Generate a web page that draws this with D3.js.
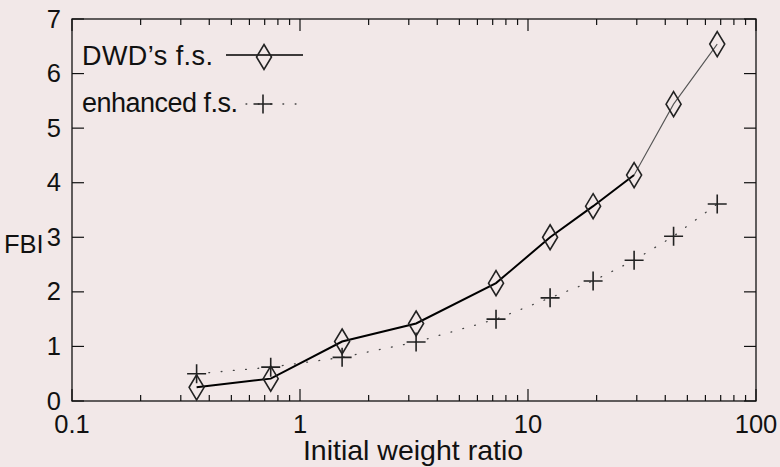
<!DOCTYPE html>
<html><head><meta charset="utf-8">
<script src="https://cdn.jsdelivr.net/npm/d3@7"></script>
<style>
html,body{margin:0;padding:0;background:#f2e8e8;}
svg{display:block;font-family:"Liberation Sans",Arial,sans-serif;}
</style></head><body>
<svg id="c" width="780" height="467"></svg>
<script>
const ratios = [0.352, 0.744, 1.53, 3.23, 7.24, 12.5, 19.3, 29.2, 43.5, 67.6];
const dwdFBI = [0.25, 0.41, 1.09, 1.42, 2.16, 3.0, 3.57, 4.14, 5.44, 6.54];
const enhancedFBI = [0.50, 0.62, 0.80, 1.08, 1.50, 1.89, 2.20, 2.58, 3.02, 3.61];
const xTicks = [0.1, 1, 10, 100];
const yTicks = [0, 1, 2, 3, 4, 5, 6, 7];
const seriesNames = ["DWD\u2019s f.s.", "enhanced f.s."];

const svg = d3.select("#c");
const L = 72, R = 756, T = 19, B = 401;
const x = d3.scaleLog().domain([0.1, 100]).range([L, R]);
const y = d3.scaleLinear().domain([0, 7]).range([B, T]);

const fg = "#111";
svg.append("rect").attr("x", L).attr("y", T).attr("width", R - L).attr("height", B - T)
  .attr("fill", "none").attr("stroke", fg).attr("stroke-width", 1.3);

const minor = [];
for (let d = 0.1; d < 100; d *= 10) for (let k = 2; k <= 9; k++) minor.push(+(d * k).toPrecision(3));
const tg = svg.append("g").attr("stroke", fg).attr("stroke-width", 1.2);
xTicks.forEach(v => {
  tg.append("line").attr("x1", x(v)).attr("x2", x(v)).attr("y1", B).attr("y2", B - 12);
  tg.append("line").attr("x1", x(v)).attr("x2", x(v)).attr("y1", T).attr("y2", T + 12);
});
minor.forEach(v => {
  tg.append("line").attr("x1", x(v)).attr("x2", x(v)).attr("y1", B).attr("y2", B - 6);
  tg.append("line").attr("x1", x(v)).attr("x2", x(v)).attr("y1", T).attr("y2", T + 6);
});
yTicks.forEach(v => {
  tg.append("line").attr("x1", L).attr("x2", L + 12).attr("y1", y(v)).attr("y2", y(v));
  tg.append("line").attr("x1", R).attr("x2", R - 12).attr("y1", y(v)).attr("y2", y(v));
});

const lab = svg.append("g").attr("fill", fg).attr("font-size", 25.5);
xTicks.forEach(v => {
  lab.append("text").attr("x", x(v)).attr("y", 433).attr("text-anchor", "middle")
    .text(d3.format("~g")(v));
});
yTicks.forEach(v => {
  lab.append("text").attr("x", 61).attr("y", y(v) + 8.5).attr("text-anchor", "end").text(v);
});
svg.append("text").attr("x", 413).attr("y", 460).attr("text-anchor", "middle")
  .attr("font-size", 28.5).attr("fill", fg).text("Initial weight ratio");
svg.append("text").attr("x", 4).attr("y", 253).attr("font-size", 25.5).attr("fill", fg).text("FBI");

const pts1 = ratios.map((r, i) => [r, dwdFBI[i]]);
const pts2 = ratios.map((r, i) => [r, enhancedFBI[i]]);
const line = d3.line().x(d => x(d[0])).y(d => y(d[1]));
svg.append("path").attr("d", line(pts2)).attr("fill", "none").attr("stroke", "#444")
  .attr("stroke-width", 1.3).attr("stroke-dasharray", "0.8 11.5").attr("stroke-linecap", "round");
svg.append("path").attr("d", line(pts1.slice(0, 8))).attr("fill", "none").attr("stroke", "#000")
  .attr("stroke-width", 2);
svg.append("path").attr("d", line(pts1.slice(7))).attr("fill", "none").attr("stroke", "#555")
  .attr("stroke-width", 1.1);

function diamond(g, cx, cy) {
  g.append("path").attr("d", `M${cx},${cy - 12.5}L${cx + 7.5},${cy}L${cx},${cy + 12.5}L${cx - 7.5},${cy}Z`)
    .attr("fill", "none").attr("stroke", "#222").attr("stroke-width", 1.6);
}
function plus(g, cx, cy) {
  g.append("path").attr("d", `M${cx - 9.5},${cy}H${cx + 9.5}M${cx},${cy - 9.5}V${cy + 9.5}`)
    .attr("fill", "none").attr("stroke", "#222").attr("stroke-width", 1.6);
}
const mg = svg.append("g");
pts1.forEach(d => diamond(mg, x(d[0]), y(d[1])));
pts2.forEach(d => plus(mg, x(d[0]), y(d[1])));

const lg = svg.append("g").attr("font-size", 27).attr("fill", fg);
lg.append("text").attr("x", 82).attr("y", 65).attr("textLength", 131).attr("lengthAdjust", "spacing")
  .text(seriesNames[0]);
lg.append("line").attr("x1", 226).attr("x2", 303).attr("y1", 55).attr("y2", 55)
  .attr("stroke", "#000").attr("stroke-width", 1.6);
diamond(lg, 264, 57);
lg.append("text").attr("x", 82).attr("y", 112).attr("textLength", 156).attr("lengthAdjust", "spacing")
  .text(seriesNames[1]);
lg.append("line").attr("x1", 246).attr("x2", 305).attr("y1", 104).attr("y2", 104)
  .attr("stroke", "#444").attr("stroke-width", 1.3).attr("stroke-dasharray", "0.8 11.5").attr("stroke-linecap", "round");
plus(lg, 263, 104);
</script>
</body></html>
